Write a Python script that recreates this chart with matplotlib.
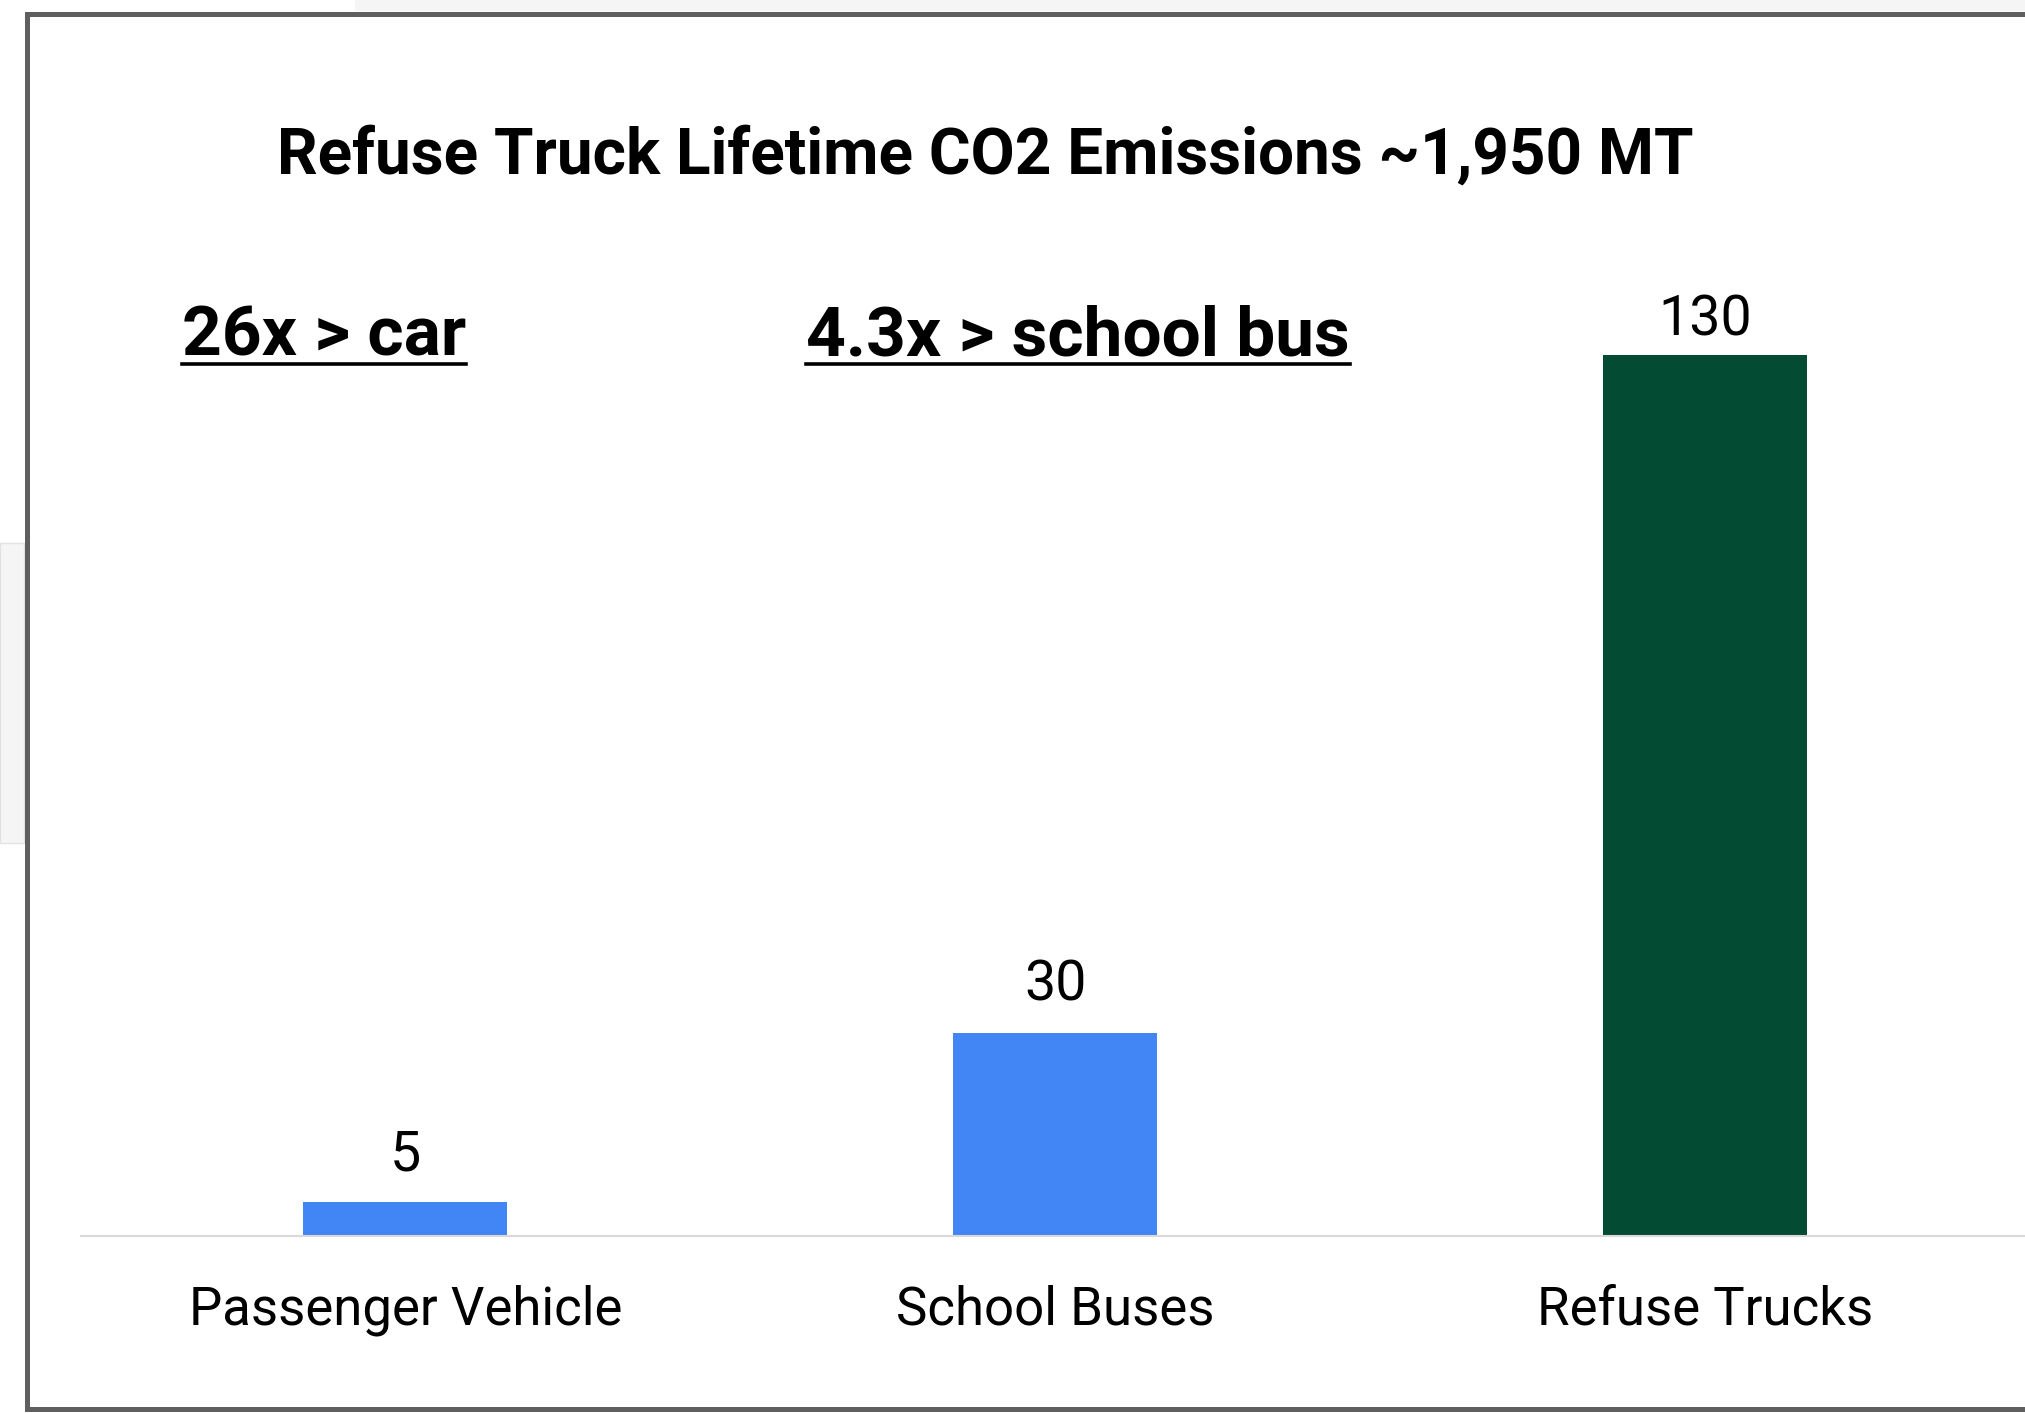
import matplotlib.pyplot as plt
from matplotlib.lines import Line2D
from matplotlib.patches import Rectangle

categories = ["Passenger Vehicle", "School Buses", "Refuse Trucks"]
values = [5, 30, 130]
bar_colors = ["#4285F4", "#4285F4", "#034B33"]
title = "Refuse Truck Lifetime CO2 Emissions ~1,950 MT"
callouts = ["26x > car", "4.3x > school bus"]

FONT = ["Roboto", "DejaVu Sans"]
W, H = 2025, 1413

fig = plt.figure(figsize=(W / 100, H / 100), dpi=100, facecolor="white")


def fx(px):
    return px / W


def fy(py):
    return 1 - py / H


# page background bits outside the frame
fig.patches.append(Rectangle((fx(355), fy(11)), fx(W - 355), 11 / H,
                             transform=fig.transFigure, facecolor="#f5f5f5",
                             edgecolor="none", zorder=0))
fig.patches.append(Rectangle((0, fy(843)), fx(24), 300 / H,
                             transform=fig.transFigure, facecolor="#f5f5f5",
                             edgecolor="#e2e2e2", linewidth=1, zorder=0))

# frame
fig.patches.append(Rectangle((fx(26.5), fy(1409)), fx(2060 - 26.5), (1409 - 13.5) / H,
                             transform=fig.transFigure, facecolor="white",
                             edgecolor="#5f5f5f", linewidth=3.6, zorder=1))

ax = fig.add_axes([fx(80.5), fy(1236), fx(2030 - 80.5), (1236 - 219) / H])
ax.set_facecolor("none")
ax.set_zorder(2)

x = list(range(len(categories)))
bars = ax.bar(x, values, width=0.314, color=bar_colors)
ax.set_xlim(-0.5, 2.5)
ax.set_ylim(0, 150)

for s in ("top", "left", "right"):
    ax.spines[s].set_visible(False)
ax.spines["bottom"].set_color("#d9d9d9")
ax.spines["bottom"].set_linewidth(1.5)
ax.set_yticks([])
ax.set_xticks(x)
ax.set_xticklabels(categories, fontsize=38, family=FONT)
ax.tick_params(axis="x", length=0, pad=35)

# value labels (the tallest one sits a little closer to its bar)
label_pad = [15, 15, 6]
for xi, v, p in zip(x, values, label_pad):
    ax.annotate(str(v), (xi, v), xytext=(0, p), textcoords="offset points",
                ha="center", va="bottom", fontsize=40, family=FONT)

fig.text(fx(985), fy(174), title, ha="center", va="baseline",
         fontsize=46, fontweight="bold", family=FONT)

callout_pos = [(324, 355), (1078, 355)]
texts = []
for (cx, cy), s in zip(callout_pos, callouts):
    t = fig.text(fx(cx), fy(cy), s, ha="center", va="baseline",
                 fontsize=50, fontweight="bold", family=FONT)
    texts.append((t, cy))

fig.canvas.draw()
r = fig.canvas.get_renderer()
for t, cy in texts:
    bb = t.get_window_extent(r)
    uy = fy(cy + 9)
    fig.lines.append(Line2D([bb.x0 / W, bb.x1 / W], [uy, uy], transform=fig.transFigure,
                            color="black", linewidth=2.6))

fig.savefig("out.png", dpi=100, facecolor="white")
